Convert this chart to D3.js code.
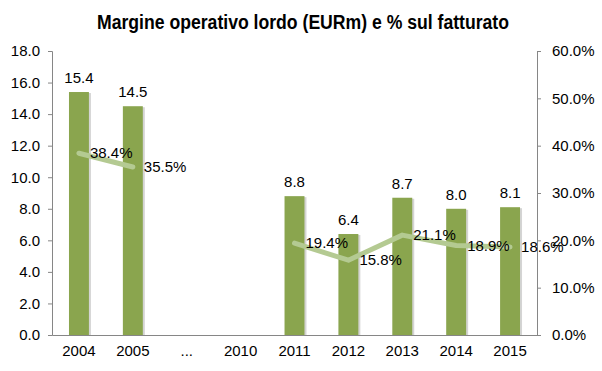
<!DOCTYPE html>
<html>
<head>
<meta charset="utf-8">
<script src="https://cdn.jsdelivr.net/npm/d3@7"></script>
<style>
  body { margin: 0; background: #fff; }
  text { font-family: "Liberation Sans", Arial, sans-serif; fill: #000; }
</style>
</head>
<body>
<div id="chart"></div>
<script>
const categories = ["2004", "2005", "...", "2010", "2011", "2012", "2013", "2014", "2015"];
const ebitda = [15.4, 14.5, null, null, 8.8, 6.4, 8.7, 8.0, 8.1];
const margin = [38.4, 35.5, null, null, 19.4, 15.8, 21.1, 18.9, 18.6];
const leftTicks = [0, 2, 4, 6, 8, 10, 12, 14, 16, 18];
const rightTicks = [0, 10, 20, 30, 40, 50, 60];

const W = 602, H = 371;
const m = { top: 51, right: 65, bottom: 36, left: 52 };

const svg = d3.select("#chart").append("svg")
  .attr("width", W).attr("height", H);

// title: condensed bold look, squeezed to the reference width
svg.append("text")
  .attr("x", 303).attr("y", 29)
  .attr("text-anchor", "middle")
  .attr("textLength", 412)
  .attr("lengthAdjust", "spacingAndGlyphs")
  .style("font-family", "'Liberation Sans', Arial, sans-serif")
  .style("font-weight", "bold")
  .style("font-size", "20px")
  .text("Margine operativo lordo (EURm) e % sul fatturato");

const x = d3.scaleBand()
  .domain(categories)
  .range([m.left, W - m.right])
  .paddingInner(0.63).paddingOuter(0.315);

const y = d3.scaleLinear().domain([0, 18]).range([H - m.bottom, m.top]);
const y2 = d3.scaleLinear().domain([0, 60]).range([H - m.bottom, m.top]);

const axisColor = "#868686";

// left axis
const gl = svg.append("g")
  .attr("transform", `translate(${m.left},0)`)
  .call(d3.axisLeft(y).tickValues(leftTicks).tickFormat(d3.format(".1f"))
    .tickSize(4).tickSizeOuter(4).tickPadding(8));
gl.selectAll("path, line").attr("stroke", axisColor);
gl.selectAll("text").style("font-size", "15px").style("font-family", "'Liberation Sans', Arial, sans-serif").attr("fill", "#000");

// right axis
const gr = svg.append("g")
  .attr("transform", `translate(${W - m.right},0)`)
  .call(d3.axisRight(y2).tickValues(rightTicks).tickFormat(d => d3.format(".1f")(d) + "%")
    .tickSize(4).tickSizeOuter(4).tickPadding(11));
gr.selectAll("path, line").attr("stroke", axisColor);
gr.selectAll("text").style("font-size", "15px").style("font-family", "'Liberation Sans', Arial, sans-serif").attr("fill", "#000");

// bottom axis
const gb = svg.append("g")
  .attr("transform", `translate(0,${H - m.bottom})`)
  .call(d3.axisBottom(x).tickSize(0).tickPadding(10));
gb.select("path").attr("stroke", axisColor);
gb.selectAll("text").style("font-size", "15px").style("font-family", "'Liberation Sans', Arial, sans-serif").attr("fill", "#000");

const data = categories.map((c, i) => ({ c, v: ebitda[i], p: margin[i] }));

// bar shadows
svg.append("g").selectAll("rect")
  .data(data.filter(d => d.v != null))
  .join("rect")
  .attr("x", d => x(d.c) + 2)
  .attr("y", d => y(d.v) + 1)
  .attr("width", x.bandwidth())
  .attr("height", d => y(0) - y(d.v) - 1)
  .attr("fill", "#d4d4d4");

svg.append("g").selectAll("rect")
  .data(data.filter(d => d.v != null))
  .join("rect")
  .attr("x", d => x(d.c))
  .attr("y", d => y(d.v))
  .attr("width", x.bandwidth())
  .attr("height", d => y(0) - y(d.v))
  .attr("fill", "#8aa54e");

svg.append("g").selectAll("text")
  .data(data.filter(d => d.v != null))
  .join("text")
  .attr("x", d => x(d.c) + x.bandwidth() / 2)
  .attr("y", d => y(d.v) - 9)
  .attr("text-anchor", "middle")
  .style("font-size", "15px")
  .text(d => d3.format(".1f")(d.v));

// margin line
const line = d3.line()
  .defined(d => d.p != null)
  .x(d => x(d.c) + x.bandwidth() / 2)
  .y(d => y2(d.p));

svg.append("path")
  .datum(data)
  .attr("d", line)
  .attr("fill", "none")
  .attr("stroke", "#b4ca92")
  .attr("stroke-width", 5)
  .attr("stroke-linecap", "round")
  .attr("stroke-linejoin", "round");

svg.append("g").selectAll("text")
  .data(data.filter(d => d.p != null))
  .join("text")
  .attr("x", d => x(d.c) + x.bandwidth() / 2 + 11)
  .attr("y", d => y2(d.p) + 5)
  .style("font-size", "15px")
  .text(d => d3.format(".1f")(d.p) + "%");
</script>
</body>
</html>
